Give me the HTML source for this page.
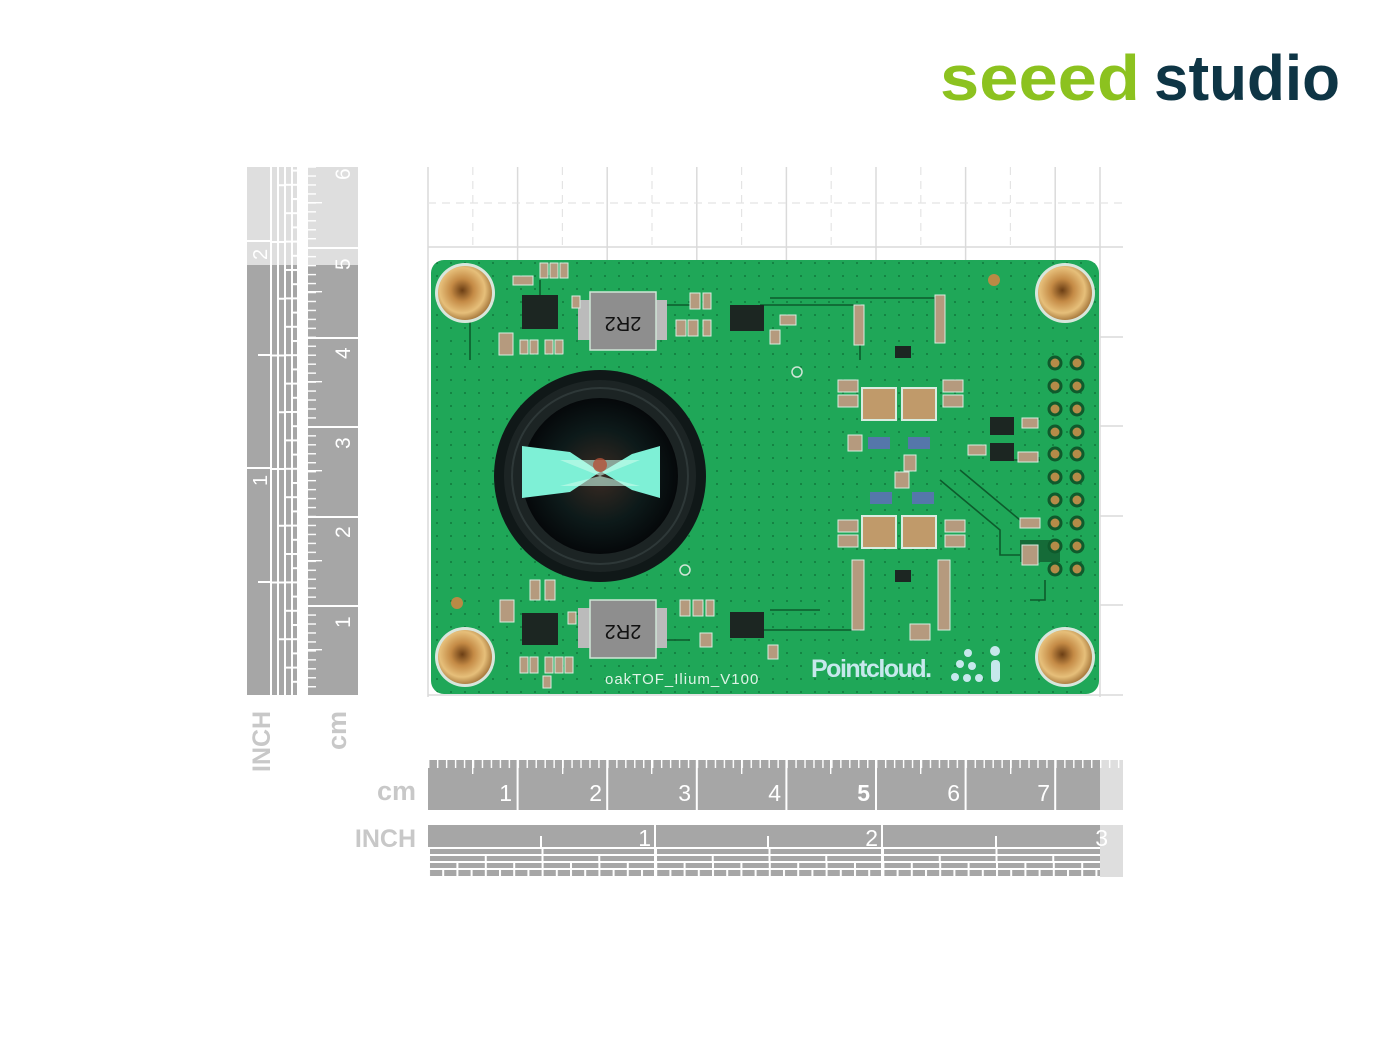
<!DOCTYPE html>
<html><head><meta charset="utf-8"><style>
html,body{margin:0;padding:0;background:#fff;}
svg{display:block;}
text{font-family:"Liberation Sans",sans-serif;}
</style></head><body>
<svg width="1400" height="1050" viewBox="0 0 1400 1050" xmlns="http://www.w3.org/2000/svg">
<defs>
  <pattern id="mmH" x="428" y="760" width="8.96" height="50" patternUnits="userSpaceOnUse">
    <rect x="0" y="0" width="1.4" height="8" fill="#fff"/></pattern>
  <pattern id="mmV" x="308" y="695" width="50" height="8.96" patternUnits="userSpaceOnUse">
    <rect x="0" y="0" width="8" height="1.4" fill="#fff"/></pattern>
  <pattern id="in2" x="428" y="0" width="113.5" height="2000" patternUnits="userSpaceOnUse"><rect width="2" height="2000" fill="#fff"/></pattern>
  <pattern id="in4" x="428" y="0" width="56.75" height="2000" patternUnits="userSpaceOnUse"><rect width="2" height="2000" fill="#fff"/></pattern>
  <pattern id="in8" x="428" y="0" width="28.4" height="2000" patternUnits="userSpaceOnUse"><rect width="2" height="2000" fill="#fff"/></pattern>
  <pattern id="in16" x="428" y="0" width="14.2" height="2000" patternUnits="userSpaceOnUse"><rect width="2" height="2000" fill="#fff"/></pattern>
  <pattern id="vin2" x="0" y="695" width="2000" height="113.5" patternUnits="userSpaceOnUse"><rect width="2000" height="2" fill="#fff"/></pattern>
  <pattern id="vin4" x="0" y="695" width="2000" height="56.75" patternUnits="userSpaceOnUse"><rect width="2000" height="2" fill="#fff"/></pattern>
  <pattern id="vin8" x="0" y="695" width="2000" height="28.4" patternUnits="userSpaceOnUse"><rect width="2000" height="2" fill="#fff"/></pattern>
  <pattern id="vin16" x="0" y="695" width="2000" height="14.2" patternUnits="userSpaceOnUse"><rect width="2000" height="2" fill="#fff"/></pattern>
  <pattern id="dots" width="14" height="13" patternUnits="userSpaceOnUse"><circle cx="3" cy="3" r="0.9" fill="#0c6a33"/></pattern>
  <radialGradient id="gold" cx="0.45" cy="0.45" r="0.6"><stop offset="0" stop-color="#6b3e14"/><stop offset="0.35" stop-color="#c48a45"/><stop offset="0.7" stop-color="#e6bf7a"/><stop offset="1" stop-color="#9a6a30"/></radialGradient>
  <radialGradient id="lens" cx="0.5" cy="0.5" r="0.5"><stop offset="0" stop-color="#3a2a22"/><stop offset="0.6" stop-color="#0d1a1a"/><stop offset="1" stop-color="#05080a"/></radialGradient>
</defs>

<!-- logo -->
<text x="940" y="100" font-size="64" font-weight="bold" fill="#8cc21f" textLength="200" lengthAdjust="spacingAndGlyphs">seeed</text>
<text x="1154" y="100" font-size="64" font-weight="bold" fill="#0e3545" textLength="186" lengthAdjust="spacingAndGlyphs">studio</text>

<!-- grid -->
<g stroke="#dadada" stroke-width="1.5">
  <line x1="428" y1="167" x2="428" y2="697"/>
  <line x1="517.6" y1="167" x2="517.6" y2="260"/><line x1="607.2" y1="167" x2="607.2" y2="260"/>
  <line x1="696.8" y1="167" x2="696.8" y2="260"/><line x1="786.4" y1="167" x2="786.4" y2="260"/>
  <line x1="876" y1="167" x2="876" y2="260"/><line x1="965.6" y1="167" x2="965.6" y2="260"/>
  <line x1="1055.2" y1="167" x2="1055.2" y2="260"/>
  <line x1="428" y1="247" x2="1123" y2="247"/>
  <line x1="428" y1="695" x2="1123" y2="695"/>
  <line x1="1100" y1="337" x2="1123" y2="337"/><line x1="1100" y1="426" x2="1123" y2="426"/>
  <line x1="1100" y1="516" x2="1123" y2="516"/><line x1="1100" y1="605" x2="1123" y2="605"/>
  <line x1="1100" y1="167" x2="1100" y2="697"/>
</g>
<g stroke="#e4e4e4" stroke-width="1.2" stroke-dasharray="8,6">
  <line x1="472.8" y1="167" x2="472.8" y2="247"/><line x1="562.4" y1="167" x2="562.4" y2="247"/>
  <line x1="652" y1="167" x2="652" y2="247"/><line x1="741.6" y1="167" x2="741.6" y2="247"/>
  <line x1="831.2" y1="167" x2="831.2" y2="247"/><line x1="920.8" y1="167" x2="920.8" y2="247"/>
  <line x1="1010.4" y1="167" x2="1010.4" y2="247"/>
  <line x1="428" y1="203" x2="1123" y2="203"/>
</g>

<!-- vertical inch ruler -->
<rect x="247" y="167" width="50" height="98" fill="#dedede"/>
<rect x="247" y="265" width="50" height="430" fill="#a6a6a6"/>
<rect x="270" y="167" width="2" height="528" fill="#fff"/>
<rect x="277" y="167" width="2" height="528" fill="#fff"/>
<rect x="284" y="167" width="2" height="528" fill="#fff"/>
<rect x="291" y="167" width="2" height="528" fill="#fff"/>
<rect x="272" y="167" width="5" height="528" fill="url(#vin2)"/>
<rect x="279" y="167" width="5" height="528" fill="url(#vin4)"/>
<rect x="286" y="167" width="5" height="528" fill="url(#vin8)"/>
<rect x="293" y="167" width="4" height="528" fill="url(#vin16)"/>
<rect x="247" y="467" width="23" height="2" fill="#fff"/>
<rect x="247" y="240" width="23" height="2" fill="#fff"/>
<rect x="258" y="581" width="12" height="2" fill="#fff"/>
<rect x="258" y="354" width="12" height="2" fill="#fff"/>
<text transform="translate(267,486) rotate(-90)" font-size="20" fill="#fff">1</text>
<text transform="translate(267,260) rotate(-90)" font-size="20" fill="#fff">2</text>
<text transform="translate(270,772) rotate(-90)" font-size="25" font-weight="bold" fill="#c8c8c8">INCH</text>

<!-- vertical cm ruler -->
<rect x="308" y="167" width="50" height="98" fill="#dedede"/>
<rect x="308" y="265" width="50" height="430" fill="#a6a6a6"/>
<rect x="308" y="167" width="50" height="528" fill="url(#mmV)"/>
<g fill="#fff">
<rect x="308" y="649" width="14" height="1.4"/><rect x="308" y="560" width="14" height="1.4"/><rect x="308" y="470" width="14" height="1.4"/><rect x="308" y="381" width="14" height="1.4"/><rect x="308" y="291" width="14" height="1.4"/><rect x="308" y="202" width="14" height="1.4"/>
<rect x="308" y="605" width="50" height="2"/><rect x="308" y="516" width="50" height="2"/><rect x="308" y="426" width="50" height="2"/><rect x="308" y="337" width="50" height="2"/><rect x="308" y="247" width="50" height="2"/>
</g>
<g fill="#fff" font-size="21">
<text transform="translate(350,628) rotate(-90)">1</text>
<text transform="translate(350,538) rotate(-90)">2</text>
<text transform="translate(350,449) rotate(-90)">3</text>
<text transform="translate(350,359) rotate(-90)">4</text>
<text transform="translate(350,270) rotate(-90)">5</text>
<text transform="translate(350,180) rotate(-90)">6</text>
</g>
<text transform="translate(346,750) rotate(-90)" font-size="27" font-weight="bold" fill="#c8c8c8">cm</text>

<!-- horizontal cm ruler -->
<rect x="428" y="760" width="672" height="50" fill="#a6a6a6"/>
<rect x="1100" y="760" width="23" height="50" fill="#dedede"/>
<rect x="428" y="760" width="695" height="50" fill="url(#mmH)"/>
<g fill="#fff">
<rect x="472" y="760" width="1.4" height="14"/><rect x="562" y="760" width="1.4" height="14"/><rect x="651" y="760" width="1.4" height="14"/><rect x="741" y="760" width="1.4" height="14"/><rect x="830" y="760" width="1.4" height="14"/><rect x="920" y="760" width="1.4" height="14"/><rect x="1010" y="760" width="1.4" height="14"/>
<rect x="516.6" y="760" width="2" height="50"/><rect x="606.2" y="760" width="2" height="50"/><rect x="695.8" y="760" width="2" height="50"/><rect x="785.4" y="760" width="2" height="50"/><rect x="875" y="760" width="2" height="50"/><rect x="964.6" y="760" width="2" height="50"/><rect x="1054.2" y="760" width="2" height="50"/>
</g>
<g fill="#fff" font-size="23" text-anchor="end">
<text x="512" y="801">1</text><text x="602" y="801">2</text><text x="691" y="801">3</text><text x="781" y="801">4</text><text x="870" y="801" font-weight="bold">5</text><text x="960" y="801">6</text><text x="1050" y="801">7</text>
</g>
<text x="416" y="800" font-size="27" font-weight="bold" fill="#c8c8c8" text-anchor="end">cm</text>

<!-- horizontal inch ruler -->
<rect x="428" y="825" width="672" height="22" fill="#a6a6a6"/>
<rect x="1100" y="825" width="23" height="52" fill="#dedede"/>
<rect x="428" y="849" width="672" height="5" fill="#a6a6a6"/>
<rect x="428" y="856" width="672" height="5" fill="#a6a6a6"/>
<rect x="428" y="863" width="672" height="5" fill="#a6a6a6"/>
<rect x="428" y="870" width="672" height="6" fill="#a6a6a6"/>
<rect x="428" y="849" width="672" height="5" fill="url(#in2)"/>
<rect x="428" y="856" width="672" height="5" fill="url(#in4)"/>
<rect x="428" y="863" width="672" height="5" fill="url(#in8)"/>
<rect x="428" y="870" width="672" height="6" fill="url(#in16)"/>
<g fill="#fff"><rect x="654" y="825" width="2" height="52"/><rect x="881" y="825" width="2" height="52"/><rect x="540" y="836" width="2" height="13"/><rect x="767" y="836" width="2" height="13"/><rect x="995" y="836" width="2" height="13"/></g>
<g fill="#fff" font-size="23" text-anchor="end"><text x="651" y="846">1</text><text x="878" y="846">2</text><text x="1108" y="846">3</text></g>
<text x="416" y="847" font-size="25" font-weight="bold" fill="#c8c8c8" text-anchor="end">INCH</text>

<!-- board -->
<rect x="431" y="260" width="668" height="434" rx="13" fill="#1fa758"/>
<rect x="431" y="260" width="668" height="434" rx="13" fill="url(#dots)"/>
<g stroke="#0d5b2c" stroke-width="1.6" fill="none">
<path d="M470 322 L470 360 M540 280 L540 300 M575 305 L590 305 M655 305 L690 305 M760 305 L860 305 L860 360 M770 298 L935 298 L935 330"/>
<path d="M940 480 L1000 530 L1000 555 L1030 555 M960 470 L1020 520 M1040 460 L1000 460 M1045 580 L1045 600 L1030 600"/>
<path d="M580 640 L590 640 M660 640 L690 640 M760 630 L860 630 M770 610 L820 610"/>
</g>
<g>
<circle cx="465" cy="293" r="30" fill="#d8e6dc"/><circle cx="465" cy="293" r="27" fill="url(#gold)"/>
<circle cx="1065" cy="293" r="30" fill="#d8e6dc"/><circle cx="1065" cy="293" r="27" fill="url(#gold)"/>
<circle cx="465" cy="657" r="30" fill="#d8e6dc"/><circle cx="465" cy="657" r="27" fill="url(#gold)"/>
<circle cx="1065" cy="657" r="30" fill="#d8e6dc"/><circle cx="1065" cy="657" r="27" fill="url(#gold)"/>
</g>
<circle cx="994" cy="280" r="6" fill="#b98a45"/><circle cx="457" cy="603" r="6" fill="#b98a45"/>
<circle cx="797" cy="372" r="5" fill="none" stroke="#cfe5d6" stroke-width="1.5"/><circle cx="685" cy="570" r="5" fill="none" stroke="#cfe5d6" stroke-width="1.5"/>
<circle cx="600" cy="476" r="106" fill="#101818"/>
<circle cx="600" cy="476" r="96" fill="#1c2424"/>
<circle cx="600" cy="476" r="88" fill="none" stroke="#2e3838" stroke-width="2"/>
<circle cx="600" cy="476" r="78" fill="url(#lens)"/>
<path d="M522 446 L570 452 L600 472 L570 492 L522 498 Z" fill="#7ef0d6"/>
<path d="M660 446 L632 454 L602 472 L632 490 L660 498 Z" fill="#7ef0d6"/>
<path d="M560 460 L640 460 L600 476 Z M560 486 L640 486 L600 476 Z" fill="#c9fbe9" opacity="0.6"/>
<circle cx="600" cy="465" r="7" fill="#b4523a" opacity="0.8"/>
<g>
<rect x="578" y="300" width="12" height="40" fill="#bbb"/><rect x="655" y="300" width="12" height="40" fill="#bbb"/>
<rect x="590" y="292" width="66" height="58" fill="#8e8e8e" stroke="#cfe5d6" stroke-width="1.5"/>
<text x="623" y="331" font-size="20" fill="#111" text-anchor="middle" transform="rotate(180 623 324)">2R2</text>
<rect x="578" y="608" width="12" height="40" fill="#bbb"/><rect x="655" y="608" width="12" height="40" fill="#bbb"/>
<rect x="590" y="600" width="66" height="58" fill="#8e8e8e" stroke="#cfe5d6" stroke-width="1.5"/>
<text x="623" y="639" font-size="20" fill="#111" text-anchor="middle" transform="rotate(180 623 632)">2R2</text>
</g>
<g fill="#1c2622">
<rect x="522" y="295" width="36" height="34"/><rect x="730" y="305" width="34" height="26"/>
<rect x="522" y="613" width="36" height="32"/><rect x="730" y="612" width="34" height="26"/>
<rect x="990" y="417" width="24" height="18"/><rect x="990" y="443" width="24" height="18"/>
<rect x="895" y="346" width="16" height="12"/><rect x="895" y="570" width="16" height="12"/>
<rect x="1020" y="540" width="40" height="22" fill="#156b38"/>
</g>
<g fill="#c09a6a" stroke="#d8ece0" stroke-width="2">
<rect x="862" y="388" width="34" height="32"/><rect x="902" y="388" width="34" height="32"/>
<rect x="862" y="516" width="34" height="32"/><rect x="902" y="516" width="34" height="32"/>
</g>
<g fill="#5577aa"><rect x="868" y="437" width="22" height="12"/><rect x="908" y="437" width="22" height="12"/><rect x="870" y="492" width="22" height="12"/><rect x="912" y="492" width="22" height="12"/></g>
<g fill="#b59a7e" stroke="#d8ece0" stroke-width="1">
<rect x="540" y="263" width="8" height="15"/><rect x="550" y="263" width="8" height="15"/><rect x="560" y="263" width="8" height="15"/>
<rect x="513" y="276" width="20" height="9"/><rect x="499" y="333" width="14" height="22"/>
<rect x="520" y="340" width="8" height="14"/><rect x="530" y="340" width="8" height="14"/><rect x="545" y="340" width="8" height="14"/><rect x="555" y="340" width="8" height="14"/>
<rect x="572" y="296" width="8" height="12"/><rect x="690" y="293" width="10" height="16"/><rect x="703" y="293" width="8" height="16"/>
<rect x="676" y="320" width="10" height="16"/><rect x="688" y="320" width="10" height="16"/><rect x="703" y="320" width="8" height="16"/>
<rect x="770" y="330" width="10" height="14"/><rect x="780" y="315" width="16" height="10"/>
<rect x="838" y="380" width="20" height="12"/><rect x="838" y="395" width="20" height="12"/><rect x="943" y="380" width="20" height="12"/><rect x="943" y="395" width="20" height="12"/>
<rect x="854" y="305" width="10" height="40"/><rect x="935" y="295" width="10" height="48"/>
<rect x="848" y="435" width="14" height="16"/><rect x="904" y="455" width="12" height="16"/><rect x="895" y="472" width="14" height="16"/>
<rect x="838" y="520" width="20" height="12"/><rect x="838" y="535" width="20" height="12"/><rect x="945" y="520" width="20" height="12"/><rect x="945" y="535" width="20" height="12"/>
<rect x="852" y="560" width="12" height="70"/><rect x="938" y="560" width="12" height="70"/>
<rect x="968" y="445" width="18" height="10"/><rect x="1022" y="418" width="16" height="10"/><rect x="1018" y="452" width="20" height="10"/>
<rect x="1020" y="518" width="20" height="10"/><rect x="1022" y="545" width="16" height="20"/>
<rect x="530" y="580" width="10" height="20"/><rect x="545" y="580" width="10" height="20"/>
<rect x="500" y="600" width="14" height="22"/><rect x="568" y="612" width="8" height="12"/>
<rect x="680" y="600" width="10" height="16"/><rect x="693" y="600" width="10" height="16"/><rect x="706" y="600" width="8" height="16"/>
<rect x="700" y="633" width="12" height="14"/><rect x="768" y="645" width="10" height="14"/>
<rect x="520" y="657" width="8" height="16"/><rect x="530" y="657" width="8" height="16"/><rect x="545" y="657" width="8" height="16"/><rect x="555" y="657" width="8" height="16"/><rect x="565" y="657" width="8" height="16"/>
<rect x="543" y="676" width="8" height="12"/><rect x="910" y="624" width="20" height="16"/>
</g>
<g fill="#b58b48" stroke="#0f5a2c" stroke-width="3">
<circle cx="1055" cy="363" r="6"/><circle cx="1077" cy="363" r="6"/>
<circle cx="1055" cy="386" r="6"/><circle cx="1077" cy="386" r="6"/>
<circle cx="1055" cy="409" r="6"/><circle cx="1077" cy="409" r="6"/>
<circle cx="1055" cy="432" r="6"/><circle cx="1077" cy="432" r="6"/>
<circle cx="1055" cy="454" r="6"/><circle cx="1077" cy="454" r="6"/>
<circle cx="1055" cy="477" r="6"/><circle cx="1077" cy="477" r="6"/>
<circle cx="1055" cy="500" r="6"/><circle cx="1077" cy="500" r="6"/>
<circle cx="1055" cy="523" r="6"/><circle cx="1077" cy="523" r="6"/>
<circle cx="1055" cy="546" r="6"/><circle cx="1077" cy="546" r="6"/>
<circle cx="1055" cy="569" r="6"/><circle cx="1077" cy="569" r="6"/>
</g>
<text x="605" y="684" font-size="15" fill="#dff3e6" font-family="Liberation Mono,monospace" letter-spacing="1">oakTOF_Ilium_V100</text>
<text x="811" y="677" font-size="25" font-weight="bold" fill="#c6e8ec" letter-spacing="-1.5">Pointcloud.</text>
<g fill="#c6e8ec"><circle cx="968" cy="653" r="4"/><circle cx="960" cy="664" r="4"/><circle cx="972" cy="666" r="4"/><circle cx="955" cy="677" r="4"/><circle cx="967" cy="678" r="4"/><circle cx="979" cy="678" r="4"/><circle cx="995" cy="651" r="5"/><rect x="991" y="660" width="9" height="22" rx="4"/></g>
</svg>
</body></html>
